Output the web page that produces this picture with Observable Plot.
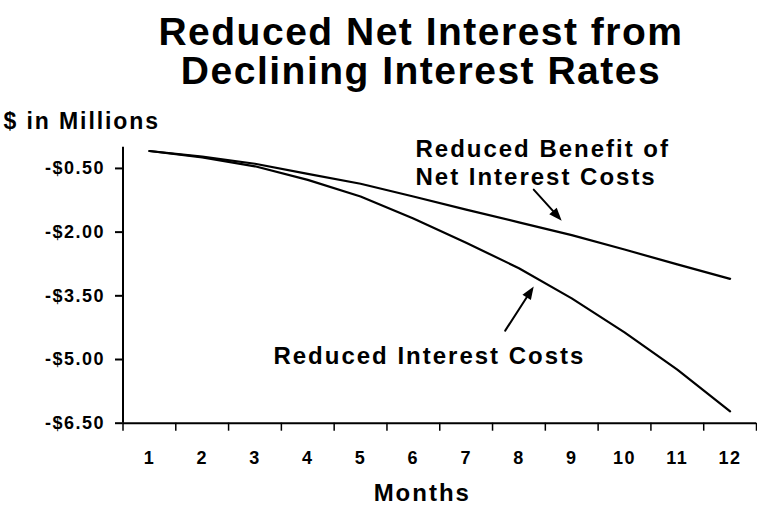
<!DOCTYPE html>
<html>
<head>
<meta charset="utf-8">
<script src="https://cdn.jsdelivr.net/npm/d3@7"></script>
<script src="https://cdn.jsdelivr.net/npm/@observablehq/plot@0.6"></script>
<style>
  html, body { margin: 0; padding: 0; background: #fff; }
  #wrap { width: 757px; height: 506px; overflow: hidden; font-family: "Liberation Sans", Arial, sans-serif; }
  #title {
    box-sizing: border-box; width: 757px; height: 100px; padding-left: 85px; padding-top: 12px; margin: 0;
    text-align: center; font-weight: bold; font-size: 39px; line-height: 39px;
    letter-spacing: 1.5px; color: #000;
  }
  #chart svg text { letter-spacing: 0.083em; }
</style>
</head>
<body>
<div id="wrap">
  <div id="title">Reduced Net Interest from<br>Declining Interest Rates</div>
  <div id="chart"></div>
</div>
<script>
// ---- data ----
const months = [1, 2, 3, 4, 5, 6, 7, 8, 9, 10, 11, 12];
const reducedBenefit = [-0.09, -0.22, -0.39, -0.63, -0.86, -1.16, -1.47, -1.77, -2.07, -2.41, -2.76, -3.10];
const reducedInterest = [-0.09, -0.24, -0.45, -0.77, -1.16, -1.68, -2.25, -2.85, -3.56, -4.36, -5.24, -6.22];
const seriesNames = ["Reduced Benefit of Net Interest Costs", "Reduced Interest Costs"];
const yTicks = [-0.5, -2, -3.5, -5, -6.5];
const yLabel = "$ in Millions";
const xLabel = "Months";

// annotations (data coordinates)
const noteText = ["Reduced Benefit of\nNet Interest Costs", "Reduced Interest Costs"];
const noteX = [6.04, 3.35];
const noteY = [0.26, -4.62];
const arrowX1 = [8.28, 7.74];
const arrowY1 = [-1.00, -4.32];
const arrowX2 = [8.81, 8.28];
const arrowY2 = [-1.73, -3.28];

// ---- build tables ----
const lineData = [];
months.forEach((m, i) => {
  lineData.push({month: m, value: reducedBenefit[i], series: seriesNames[0]});
  lineData.push({month: m, value: reducedInterest[i], series: seriesNames[1]});
});
const notes = noteText.map((t, i) => ({text: t, x: noteX[i], y: noteY[i]}));
const arrows = arrowX1.map((x1, i) => ({x1, y1: arrowY1[i], x2: arrowX2[i], y2: arrowY2[i]}));
const boundaries = months.map(m => m - 0.5).concat([months[months.length - 1] + 0.5]);

const W = 757, H = 406;
const mL = 122.5, mR = 1, mT = 46.7, mB = 83.3;
const xDomain = [0.5, 12.5];
const yDomain = [-6.5, 0];

// scales used only to orient arrowheads
const xs = Plot.scale({x: {type: "linear", domain: xDomain, range: [mL, W - mR]}});
const ys = Plot.scale({y: {type: "linear", domain: yDomain, range: [H - mB, mT]}});

const head = {
  draw(ctx) {
    ctx.moveTo(0, 0);
    ctx.lineTo(-5, 13);
    ctx.lineTo(5, 13);
    ctx.closePath();
  }
};

const headMarks = arrows.map(a => {
  const dx = xs.apply(a.x2) - xs.apply(a.x1);
  const dy = ys.apply(a.y2) - ys.apply(a.y1);
  const angle = Math.atan2(dx, -dy) * 180 / Math.PI;
  return Plot.dot([a], {x: "x2", y: "y2", symbol: head, r: 5, rotate: angle, fill: "black", stroke: "none"});
});

const fmt = d => "-$" + Math.abs(d).toFixed(2);

const chart = Plot.plot({
  width: W,
  height: H,
  marginLeft: mL,
  marginRight: mR,
  marginTop: mT,
  marginBottom: mB,
  style: {fontFamily: "'Liberation Sans', Arial, sans-serif", fontWeight: "bold", background: "white", color: "black", overflow: "visible"},
  x: {type: "linear", domain: xDomain, axis: null},
  y: {type: "linear", domain: yDomain, axis: null},
  marks: [
    // axis lines
    Plot.ruleX([xDomain[0]], {y1: yDomain[0], y2: yDomain[1], stroke: "black", strokeWidth: 2}),
    Plot.ruleY([yDomain[0]], {x1: xDomain[0], x2: xDomain[1], stroke: "black", strokeWidth: 2}),
    // y axis ticks + labels
    Plot.axisY({ticks: yTicks, tickFormat: fmt, tickSize: 7.5, tickPadding: 10.5, fontSize: 18, strokeWidth: 2, label: null}),
    // x axis tick marks at month boundaries
    Plot.axisX({ticks: boundaries, tickFormat: () => "", tickSize: 8, strokeWidth: 1.5, label: null}),
    // x axis month labels
    Plot.axisX({ticks: months, tickFormat: d => String(d), tickSize: 0, tickPadding: 28, fontSize: 18, label: null}),
    // axis titles
    Plot.text([yLabel], {frameAnchor: "top-left", lineAnchor: "middle", textAnchor: "start", dx: -119.5, dy: -25.8, fontSize: 23}),
    Plot.text([xLabel], {frameAnchor: "bottom", lineAnchor: "middle", dx: -17.5, dy: 70.3, fontSize: 24}),
    // lines
    Plot.line(lineData, {x: "month", y: "value", z: "series", stroke: "black", strokeWidth: 2.2}),
    // annotations
    Plot.text(notes, {x: "x", y: "y", text: "text", textAnchor: "start", lineAnchor: "top", lineHeight: 1.2, fontSize: 24}),
    Plot.arrow(arrows, {x1: "x1", y1: "y1", x2: "x2", y2: "y2", headLength: 0, insetEnd: 6, stroke: "black", strokeWidth: 2}),
    ...headMarks
  ]
});

document.getElementById("chart").appendChild(chart);
</script>
</body>
</html>
